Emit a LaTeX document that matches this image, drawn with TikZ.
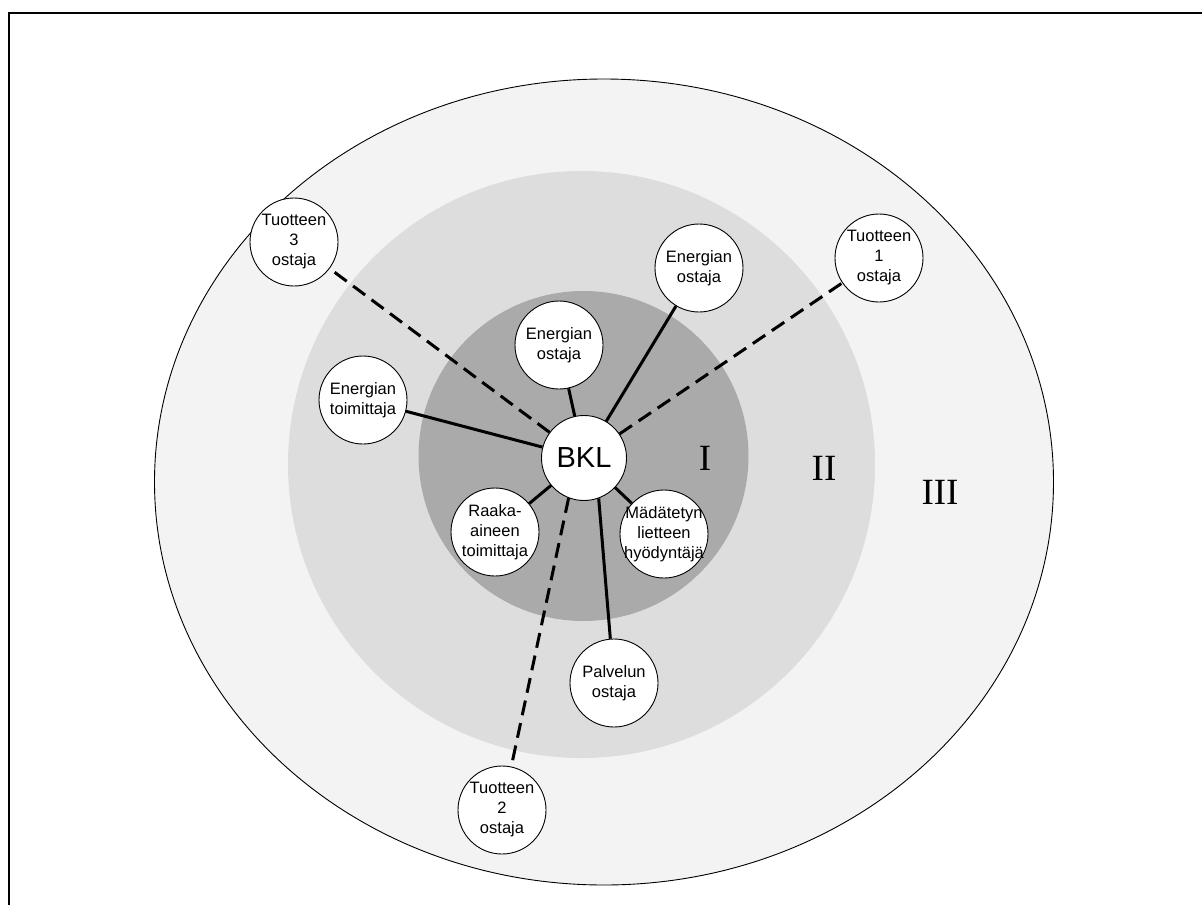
\documentclass[tikz,border=0pt]{standalone}
\usepackage{fontspec}
\setmainfont{Liberation Sans}
\newfontfamily\romanfont{Liberation Serif}
\definecolor{zoneIII}{RGB}{243,243,243}
\definecolor{zoneII}{RGB}{221,221,221}
\definecolor{zoneI}{RGB}{170,170,170}
\begin{document}
\begin{tikzpicture}[x=1pt,y=-1pt,
  bubble/.style={circle,draw=black,line width=0.9pt,fill=white,minimum size=88pt,inner sep=0pt},
  btext/.style={align=center,font=\fontsize{16.5}{20}\selectfont,inner sep=0pt},
  solidlink/.style={line width=3pt},
  dashlink/.style={line width=3pt,dash pattern=on 15pt off 8pt},
  zone/.style={font=\romanfont\fontsize{37}{37}\selectfont,inner sep=0pt}]
\useasboundingbox (0,0) rectangle (1202,905);
\fill[white] (0,0) rectangle (1202,905);
\draw[line width=2pt] (9,905) -- (9,13) -- (1202,13);
\filldraw[fill=zoneIII,draw=black,line width=0.9pt] (604,482) ellipse [x radius=449.5, y radius=403];
\fill[zoneII] (581.5,464.5) circle [radius=293.5];
\fill[zoneI] (583.5,456) circle [radius=165];
% zone labels
\node[zone] (zI) at (705,458) {I};
\node[zone] (zII) at (824,468) {II};
\node[zone] (zIII) at (940,492) {III};
% nodes
\node[bubble,minimum size=85pt] (bkl) at (584,458) {};
\node[font=\fontsize{29}{29}\selectfont,inner sep=0pt] (bkltext) at (bkl) {BKL};
\node[bubble] (t3) at (294,242) {};
\node[bubble] (eo2) at (699,268) {};
\node[bubble] (t1) at (879,258) {};
\node[bubble] (eo1) at (559,345) {};
\node[bubble] (et) at (363,400) {};
\node[bubble] (raaka) at (495,532) {};
\node[bubble] (mad) at (664,534) {};
\node[bubble] (palv) at (614,683) {};
\node[bubble] (t2) at (502,810) {};
% connectors
\draw[dashlink] (bkl) -- (t3);
\draw[dashlink] (bkl) -- (t1);
\draw[dashlink] (bkl.-111) -- (t2);
\draw[solidlink] (bkl) -- (eo2);
\draw[solidlink] (bkl) -- (eo1);
\draw[solidlink] (bkl) -- (et);
\draw[solidlink] (bkl) -- (raaka);
\draw[solidlink] (bkl) -- (mad);
\draw[solidlink] (bkl.-70) -- (palv);
% texts
\node[btext] (t3text) at (t3) {Tuotteen\\3\\ostaja};
\node[btext] (eo2text) at (eo2) {Energian\\ostaja};
\node[btext] (t1text) at (t1) {Tuotteen\\1\\ostaja};
\node[btext] (eo1text) at (eo1) {Energian\\ostaja};
\node[btext] (ettext) at (et) {Energian\\toimittaja};
\node[btext] (raakatext) at (raaka) {Raaka-\\aineen\\toimittaja};
\node[btext] (madtext) at (mad) {Mädätetyn\\lietteen\\hyödyntäjä};
\node[btext] (palvtext) at (palv) {Palvelun\\ostaja};
\node[btext] (t2text) at (t2) {Tuotteen\\2\\ostaja};
\end{tikzpicture}
\end{document}
